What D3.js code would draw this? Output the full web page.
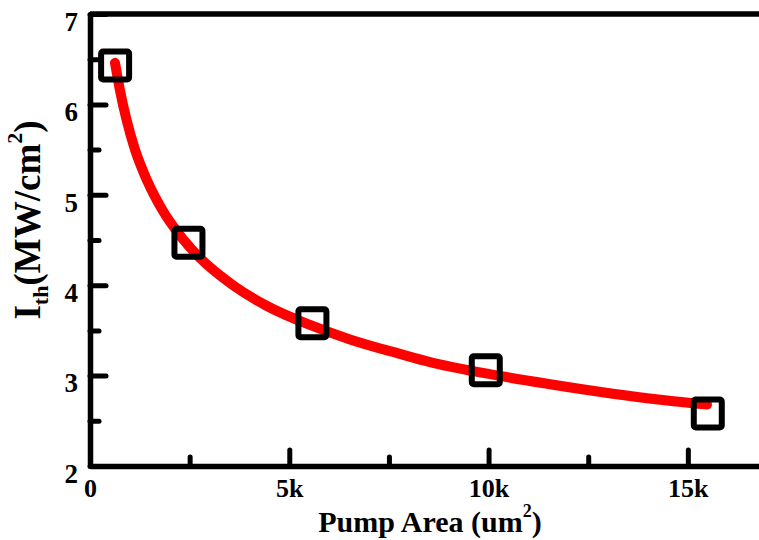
<!DOCTYPE html>
<html>
<head>
<meta charset="utf-8">
<script src="https://cdn.jsdelivr.net/npm/d3@7"></script>
<style>
  body { margin: 0; background: #fff; }
</style>
</head>
<body>
<div id="chart"></div>
<script>
// measured points (pump area in um^2, threshold in MW/cm^2)
const pumpArea = [630, 2470, 5580, 9930, 15500];
const threshold = [6.43, 4.47, 3.58, 3.06, 2.58];

// red fit curve
const fitArea = [627, 750, 928, 1129, 1430, 1831, 2333, 2760, 3588, 4440, 5519, 6523, 7777, 8530, 9860, 11465, 13121, 14375, 15480];
const fitI = [6.46, 6.16, 5.81, 5.50, 5.16, 4.82, 4.51, 4.30, 4.00, 3.77, 3.56, 3.40, 3.24, 3.15, 3.03, 2.91, 2.80, 2.73, 2.68];

const xTicks = [0, 5000, 10000, 15000];
const xMinor = [2500, 7500, 12500];
const yTicks = [2, 3, 4, 5, 6, 7];
const yMinor = [2.5, 3.5, 4.5, 5.5, 6.5];

const width = 759, height = 540;
const plotLeft = 90, plotTop = 14, plotBottom = 466;
const serif = "Liberation Serif";

const svg = d3.select("#chart").append("svg")
  .attr("width", width)
  .attr("height", height);

const x = d3.scaleLinear().domain([0, 16810]).range([plotLeft, 760]);
const y = d3.scaleLinear().domain([2, 7]).range([plotBottom, plotTop]);

// top border
svg.append("line")
  .attr("x1", plotLeft).attr("x2", width + 1)
  .attr("y1", plotTop).attr("y2", plotTop)
  .attr("stroke", "#000").attr("stroke-width", 5.5);

// minor ticks
svg.append("g")
  .attr("transform", `translate(0,${plotBottom})`)
  .call(d3.axisBottom(x).tickValues(xMinor).tickSize(-9).tickFormat(""))
  .call(g => g.select(".domain").remove());
svg.append("g")
  .attr("transform", `translate(${plotLeft},0)`)
  .call(d3.axisLeft(y).tickValues(yMinor).tickSize(-9).tickFormat(""))
  .call(g => g.select(".domain").remove());

const xAxis = svg.append("g")
  .attr("transform", `translate(0,${plotBottom})`)
  .call(d3.axisBottom(x)
    .tickValues(xTicks)
    .tickSize(-16)
    .tickSizeOuter(0)
    .tickPadding(13)
    .tickFormat(d => d === 0 ? "0" : d / 1000 + "k"));

const yAxis = svg.append("g")
  .attr("transform", `translate(${plotLeft},0)`)
  .call(d3.axisLeft(y)
    .tickValues(yTicks)
    .tickSize(-16)
    .tickSizeOuter(0)
    .tickPadding(12)
    .tickFormat(d3.format("d")));

svg.selectAll(".tick line")
  .attr("stroke", "#000")
  .attr("stroke-width", 5)
  .attr("stroke-linecap", "round");

svg.selectAll(".domain")
  .attr("stroke", "#000")
  .attr("stroke-width", 5.5);

xAxis.selectAll("text")
  .attr("font-family", serif).attr("font-weight", "bold")
  .attr("font-size", 26).attr("fill", "#000");
yAxis.selectAll("text")
  .attr("font-family", serif).attr("font-weight", "bold")
  .attr("font-size", 27).attr("fill", "#000").attr("dy", "0.6em");

// fit curve
const line = d3.line()
  .x((d, i) => x(fitArea[i]))
  .y(d => y(d))
  .curve(d3.curveMonotoneX);

svg.append("path")
  .datum(fitI)
  .attr("d", line)
  .attr("fill", "none")
  .attr("stroke", "#ff0000")
  .attr("stroke-width", 10)
  .attr("stroke-linecap", "round");

// square markers
svg.selectAll("rect.pt")
  .data(threshold)
  .enter()
  .append("rect")
  .attr("class", "pt")
  .attr("x", (d, i) => x(pumpArea[i]) - 14)
  .attr("y", d => y(d) - 14)
  .attr("width", 28)
  .attr("height", 28)
  .attr("rx", 2)
  .attr("fill", "none")
  .attr("stroke", "#000")
  .attr("stroke-width", 6);

// axis titles
const xt = svg.append("text")
  .attr("x", 430)
  .attr("y", 532)
  .attr("text-anchor", "middle")
  .attr("font-family", serif)
  .attr("font-weight", "bold")
  .attr("font-size", 30);
xt.append("tspan").text("Pump Area (um");
xt.append("tspan").attr("font-size", 18).attr("dy", -15).text("2");
xt.append("tspan").attr("dy", 15).text(")");

const yt = svg.append("text")
  .attr("transform", "translate(40,220) rotate(-90)")
  .attr("text-anchor", "middle")
  .attr("font-family", serif)
  .attr("font-weight", "bold")
  .attr("font-size", 37);
yt.append("tspan").text("I");
yt.append("tspan").attr("font-size", 22).attr("dy", 8).text("th");
yt.append("tspan").attr("dy", -8).text("(MW/cm");
yt.append("tspan").attr("font-size", 22).attr("dy", -18).text("2");
yt.append("tspan").attr("dy", 18).text(")");
</script>
</body>
</html>
